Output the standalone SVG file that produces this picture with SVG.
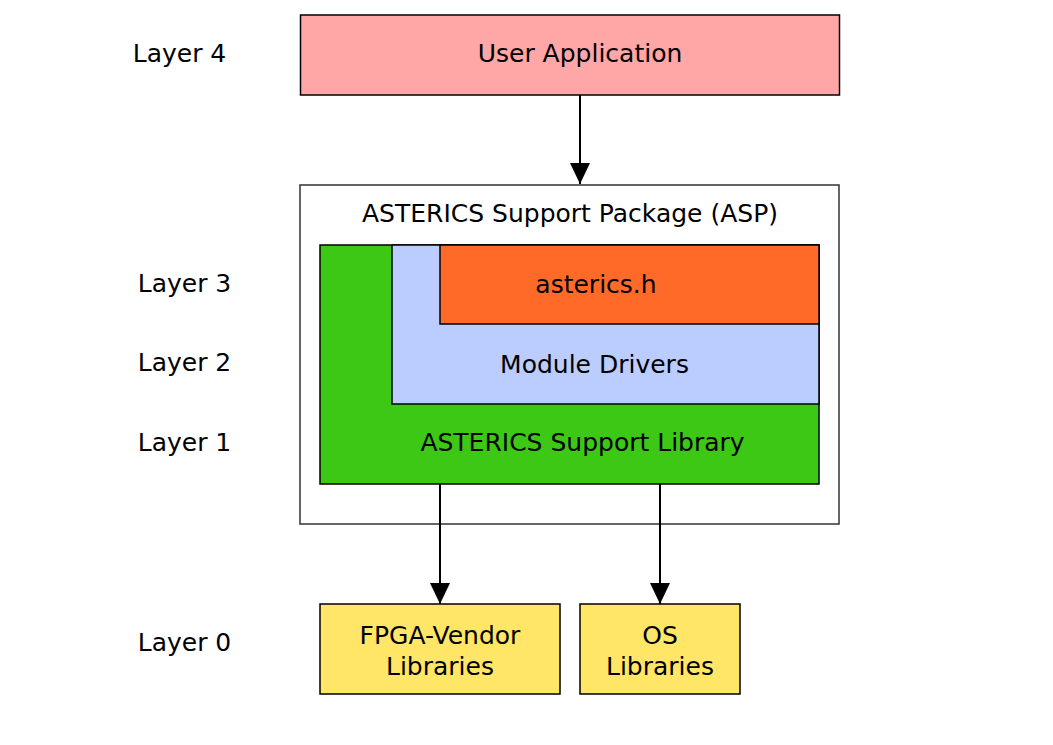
<svg xmlns="http://www.w3.org/2000/svg" width="1053" height="745" viewBox="0 0 1053 745">
  <defs>
    <marker id="arrow" markerWidth="21" markerHeight="20" refX="21" refY="10" orient="auto" markerUnits="userSpaceOnUse" viewBox="0 0 21 20">
      <path d="M0,0 L21,10 L0,20 Z" fill="#000"/>
    </marker>
    <style>
      text { font-family: "DejaVu Sans", sans-serif; font-size: 25px; fill: #000; text-anchor: middle; }
      .box { stroke: #000; stroke-width: 1.5; }
      .conn { stroke: #000; stroke-width: 2; fill: none; }
    </style>
  </defs>
  <rect width="1053" height="745" fill="#fff"/>

  <g id="layer-labels">
    <text x="179.5" y="61.7">Layer 4</text>
    <text x="184.5" y="291.7">Layer 3</text>
    <text x="184.5" y="370.7">Layer 2</text>
    <text x="184.5" y="450.7">Layer 1</text>
    <text x="184.5" y="650.7">Layer 0</text>
  </g>

  <g id="user-application">
    <rect class="box" x="300.5" y="15" width="539" height="80" fill="#ffa6a6"/>
    <text x="580" y="61.7">User Application</text>
  </g>

  <g id="asp">
    <rect x="300" y="185" width="539" height="339" fill="#fff" stroke="#333" stroke-width="1.5"/>
    <text x="570" y="221.7">ASTERICS Support Package (ASP)</text>
  </g>

  <g id="support-library">
    <rect class="box" x="320" y="245" width="499" height="239" fill="#3cc815"/>
    <text x="582.5" y="450.7">ASTERICS Support Library</text>
  </g>

  <g id="module-drivers">
    <rect class="box" x="392" y="245" width="427" height="159" fill="#bbccff"/>
    <text x="594.5" y="372.7">Module Drivers</text>
  </g>

  <g id="asterics-h">
    <rect class="box" x="440" y="245" width="379" height="79" fill="#ff6a29"/>
    <text x="596" y="292.7">asterics.h</text>
  </g>

  <g id="fpga-vendor-libraries">
    <rect class="box" x="320" y="604" width="240" height="90" fill="#ffe667"/>
    <text x="440" y="643.7">FPGA-Vendor</text>
    <text x="440" y="674.7">Libraries</text>
  </g>

  <g id="os-libraries">
    <rect class="box" x="580" y="604" width="160" height="90" fill="#ffe667"/>
    <text x="660" y="643.7">OS</text>
    <text x="660" y="674.7">Libraries</text>
  </g>

  <g id="connectors">
    <line class="conn" x1="580" y1="95" x2="580" y2="184" marker-end="url(#arrow)"/>
    <line class="conn" x1="440" y1="484" x2="440" y2="604" marker-end="url(#arrow)"/>
    <line class="conn" x1="660" y1="484" x2="660" y2="604" marker-end="url(#arrow)"/>
  </g>
</svg>
